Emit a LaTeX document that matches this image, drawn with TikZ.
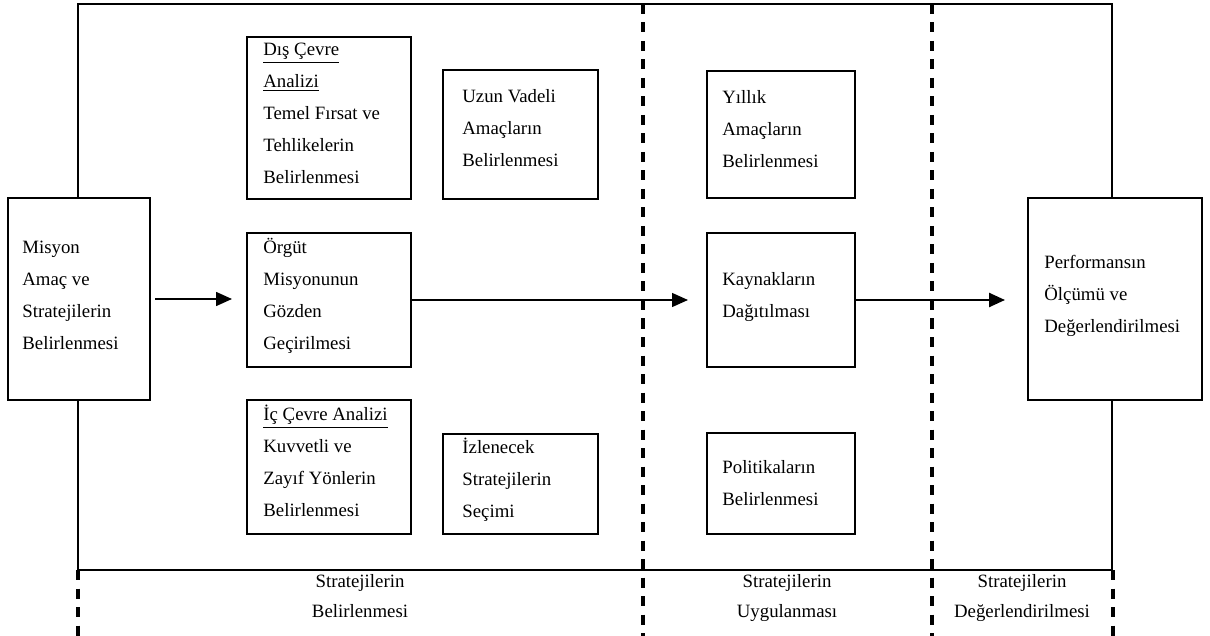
\documentclass[tikz,border=0pt]{standalone}
\usepackage{fontspec}
\setmainfont{Liberation Serif}
\usetikzlibrary{arrows.meta,fit}
\begin{document}
\begin{tikzpicture}[x=0.5pt,y=-0.5pt,
  box/.style={draw, line width=1.4pt, fill=white, inner sep=0pt, outer sep=0pt},
  frame/.style={draw, line width=1.4pt, inner sep=0pt, outer sep=0pt},
  txt/.style={anchor=north west, inner sep=0pt, align=left, font=\fontsize{9.4}{16}\selectfont},
  lbl/.style={anchor=north, inner sep=0pt, align=center, font=\fontsize{9.4}{15}\selectfont},
  phase/.style={line width=2pt, dash pattern=on 5pt off 4.25pt},
  flow/.style={line width=0.8pt, -{Triangle[length=8pt,width=7pt]}}]
\useasboundingbox (0,0) rectangle (1210,636);

% outer frame of the planning stage
\node[frame, fit={(78,4) (1112,570)}] (frame) {};

% phase separators
\draw[phase] (643,4) -- (643,636);
\draw[phase] (932,4) -- (932,636);
\draw[phase] (78,570) -- (78,636);
\draw[phase] (1113,570) -- (1113,636);

% boxes
\node[box, fit={(8,198) (150,400)}] (mis) {};
\node[box, fit={(247,37) (411,199)}] (dis) {};
\node[box, fit={(443,70) (598,199)}] (uzun) {};
\node[box, fit={(247,233) (411,367)}] (org) {};
\node[box, fit={(247,400) (411,534)}] (ic) {};
\node[box, fit={(443,434) (598,534)}] (izl) {};
\node[box, fit={(707,71) (855,198)}] (yil) {};
\node[box, fit={(707,233) (855,367)}] (kay) {};
\node[box, fit={(707,433) (855,534)}] (pol) {};
\node[box, fit={(1028,198) (1202,400)}] (perf) {};

% box texts
\node[txt] (mis-t) at (22,230.6) {\strut Misyon\\Amaç ve\\Stratejilerin\\Belirlenmesi};
\node[txt] (dis-t) at (263,32.6) {\strut\underline{Dış Çevre}\\\underline{Analizi}\\Temel Fırsat ve\\Tehlikelerin\\Belirlenmesi};
\node[txt] (uzun-t) at (462,79.6) {\strut Uzun Vadeli\\Amaçların\\Belirlenmesi};
\node[txt] (org-t) at (263,230.6) {\strut Örgüt\\Misyonunun\\Gözden\\Geçirilmesi};
\node[txt] (ic-t) at (263,397.6) {\strut\underline{İç Çevre Analizi}\\Kuvvetli ve\\Zayıf Yönlerin\\Belirlenmesi};
\node[txt] (izl-t) at (462,430.6) {\strut İzlenecek\\Stratejilerin\\Seçimi};
\node[txt] (yil-t) at (722,80.6) {\strut Yıllık\\Amaçların\\Belirlenmesi};
\node[txt] (kay-t) at (722,262.6) {\strut Kaynakların\\Dağıtılması};
\node[txt] (pol-t) at (722,450.6) {\strut Politikaların\\Belirlenmesi};
\node[txt] (perf-t) at (1044,245.6) {\strut Performansın\\Ölçümü ve\\Değerlendirilmesi};

% phase labels
\node[lbl] (ph1) at (360,566) {\strut Stratejilerin\\Belirlenmesi};
\node[lbl] (ph2) at (787,566) {\strut Stratejilerin\\Uygulanması};
\node[lbl] (ph3) at (1022,566) {\strut Stratejilerin\\Değerlendirilmesi};

% flow arrows
\draw[flow, shorten <=2.5pt, shorten >=7.5pt] (mis.east) -- (mis.east -| org.west);
\draw[flow, line width=0.7pt, shorten >=9.5pt] (org.east) -- (kay.west);
\draw[flow, line width=1.2pt, shorten >=11.5pt] (kay.east) -- (kay.east -| perf.west);
\end{tikzpicture}
\end{document}
